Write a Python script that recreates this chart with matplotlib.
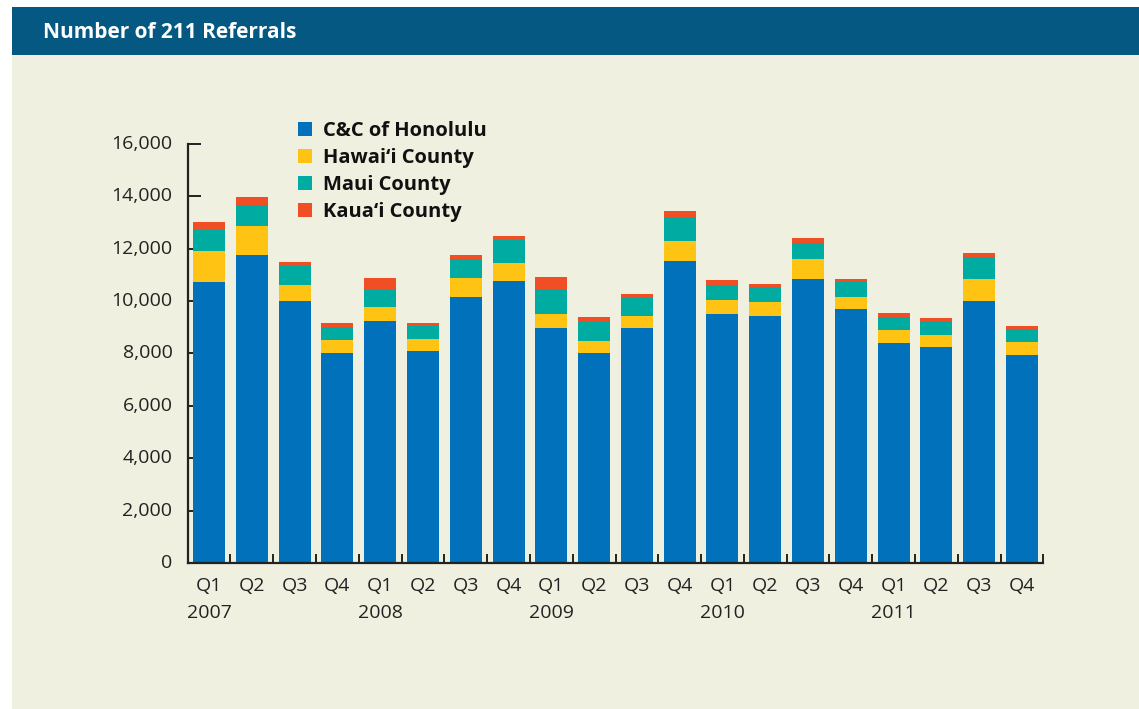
import matplotlib
matplotlib.use("Agg")
import matplotlib.pyplot as plt
from matplotlib.patches import Rectangle
from matplotlib.ticker import FixedLocator, FuncFormatter
import matplotlib.transforms as mtransforms
import numpy as np

quarters = ["Q1", "Q2", "Q3", "Q4"] * 5
years = ["2007", "2008", "2009", "2010", "2011"]
series_names = ["C&C of Honolulu", "Hawai\u2018i County", "Maui County", "Kaua\u2018i County"]

honolulu = [10730, 11760, 10000, 8020, 9240, 8100, 10150, 10770, 8970, 8020,
            8970, 11530, 9510, 9430, 10840, 9700, 8400, 8250, 10000, 7940]
hawaii = [1180, 1100, 610, 500, 530, 460, 725, 685, 535, 460,
          460, 765, 535, 535, 760, 460, 495, 460, 840, 495]
maui = [800, 800, 725, 495, 660, 505, 725, 875, 955, 725,
        685, 915, 570, 570, 610, 570, 495, 535, 840, 495]
kauai = [305, 305, 150, 150, 445, 105, 150, 150, 455, 190,
         155, 230, 190, 115, 190, 115, 155, 115, 150, 115]

colors = ["#0071BA", "#FFC313", "#00ACA2", "#F04E25"]
bg = "#F0F0E1"
header = "#045882"

W, H = 1139, 709
fig = plt.figure(figsize=(W / 100, H / 100), dpi=100)
fig.patch.set_facecolor("white")
font = ["Open Sans", "DejaVu Sans"]

# background panels
fig.patches.append(Rectangle((12 / W, 0), 1 - 12 / W, 1 - 55 / H, transform=fig.transFigure,
                             facecolor=bg, edgecolor="none", zorder=-10))
fig.patches.append(Rectangle((12 / W, 1 - 55 / H), 1 - 12 / W, 48 / H, transform=fig.transFigure,
                             facecolor=header, edgecolor="none", zorder=-10))
fig.text(43 / W, 1 - 33 / H, "Number of 211 Referrals", color="white", fontsize=15,
         fontweight="bold", family=font, va="center", ha="left")

ax = fig.add_axes([187.7 / W, 1 - 563.3 / H, 855.6 / W, 419.6 / H])
ax.set_zorder(2)
ax.set_facecolor("none")

x = np.arange(len(quarters))
bottom = np.zeros(len(quarters))
handles = []
for vals, c, name in zip([honolulu, hawaii, maui, kauai], colors, series_names):
    b = ax.bar(x, vals, width=0.75, bottom=bottom, color=c, label=name, zorder=3)
    bottom += np.array(vals)
    handles.append(b)

ax.set_xlim(-0.5, len(quarters) - 0.5)
ax.set_ylim(0, 16000)
for s in ["top", "right"]:
    ax.spines[s].set_visible(False)
for s in ["left", "bottom"]:
    ax.spines[s].set_linewidth(1.6)
    ax.spines[s].set_color("#222222")
    ax.spines[s].set_zorder(4)

ax.set_yticks(np.arange(0, 16001, 2000))
ax.yaxis.set_major_formatter(FuncFormatter(lambda v, p: f"{int(v):,}"))
ax.tick_params(axis="y", direction="in", length=9, width=1.4, color="#222222",
               pad=11, labelsize=14, labelcolor="#222222")
ax.set_xticks(x)
ax.set_xticklabels(quarters)
ax.tick_params(axis="x", which="major", length=0, pad=10, labelsize=14, labelcolor="#222222")
ax.xaxis.set_minor_locator(FixedLocator(np.arange(0.5, len(quarters), 1.0)))
ax.tick_params(axis="x", which="minor", direction="in", length=6.5, width=1.4, color="#222222")
for lab in ax.get_xticklabels():
    lab.set_family(font)
for lab in ax.get_yticklabels():
    lab.set_family(font)
    lab.set_verticalalignment("center")

for i, yr in enumerate(years):
    ax.annotate(yr, xy=(i * 4, 0), xycoords=("data", "axes fraction"),
                xytext=(0, -50), textcoords="offset pixels", ha="center", va="center",
                fontsize=14, color="#222222", family=font)

leg = fig.legend(handles=handles, labels=series_names, loc="upper left",
                 bbox_to_anchor=(298 / W, 1 - 121 / H), frameon=False,
                 borderpad=0, borderaxespad=0, handlelength=0.7, handleheight=0.7,
                 handletextpad=0.55, labelspacing=0.35,
                 prop={"family": font, "weight": "bold", "size": 14.5})
leg.set_zorder(5)
for t in leg.get_texts():
    t.set_color("#111111")

fig.savefig("out.png", dpi=100, facecolor=fig.get_facecolor())
